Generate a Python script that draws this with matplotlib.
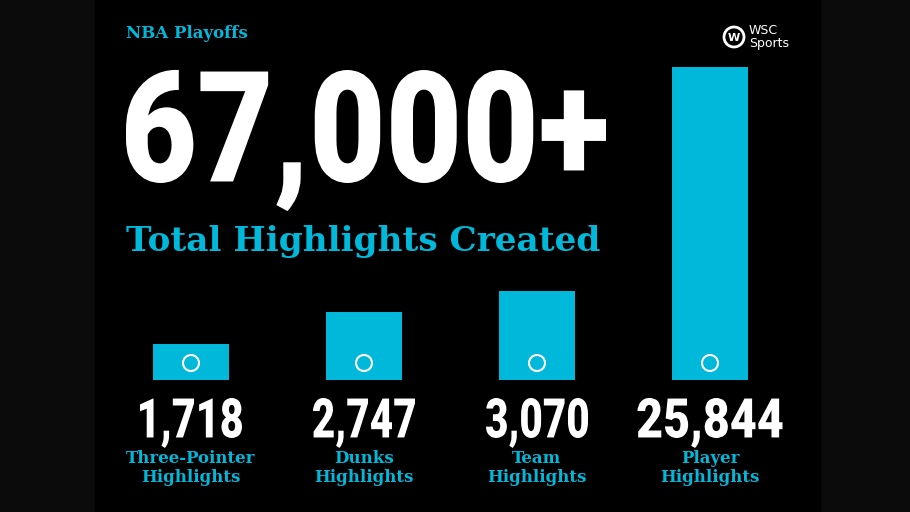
import matplotlib
matplotlib.use("Agg")
import matplotlib.pyplot as plt
from matplotlib.patches import Rectangle, Circle, PathPatch
from matplotlib.textpath import TextPath
from matplotlib.font_manager import FontProperties
from matplotlib.transforms import Affine2D

categories = ["Three-Pointer\nHighlights", "Dunks\nHighlights", "Team\nHighlights", "Player\nHighlights"]
values = [1718, 2747, 3070, 25844]
bar_heights = [36, 68, 89, 313]  # displayed (not to scale) heights in px
title_num = "67,000+"
subtitle = "Total Highlights Created"
kicker = "NBA Playoffs"

CYAN = "#00b8d9"
fig = plt.figure(figsize=(9.1, 5.12), dpi=100, facecolor="#0b0b0b")
ax = fig.add_axes([0, 0, 1, 1])
ax.set_xlim(0, 910); ax.set_ylim(512, 0); ax.axis("off")
ax.add_patch(Rectangle((95, 0), 725, 512, color="black", zorder=0))

prop = FontProperties(family="Roboto", weight="black")

def squeezed(s, x, top, cap_h, width, align="left"):
    tp = TextPath((0, 0), s, size=100, prop=prop)
    cap = TextPath((0, 0), "0", size=100, prop=prop).get_extents()
    ext = tp.get_extents()
    sy = cap_h / cap.height
    sx = width / ext.width
    x0 = x if align == "left" else x - width / 2
    tr = Affine2D().translate(-ext.x0, -cap.y1).scale(sx, -sy).translate(x0, top)
    ax.add_patch(PathPatch(tr.transform_path(tp), color="white", lw=0, zorder=3))

base = 380
xs = [191, 364, 537, 710]
ax.bar(xs, [-h for h in bar_heights], bottom=base, width=76, color=CYAN, zorder=2)
for x, h, v, c in zip(xs, bar_heights, values, categories):
    ax.add_patch(Circle((x, base - 17), 8, fill=False, ec="white", lw=1.5, zorder=3))
    s = f"{v:,}"
    squeezed(s, x, 398, 40, 22 * len(s) + (-8 if len(s) == 5 else 13), align="center")
    ax.text(x, 468, c, color=CYAN, fontsize=12, fontweight="bold", family="DejaVu Serif",
            ha="center", va="center", linespacing=1.2)

ax.text(126, 33, kicker, color=CYAN, fontsize=12, fontweight="bold", family="DejaVu Serif", va="center")
squeezed(title_num, 126, 70, 113, 480)
ax.text(126, 241, subtitle, color=CYAN, fontsize=24.7, fontweight="bold", family="DejaVu Serif", va="center")
ax.add_patch(Circle((734, 37), 10, fill=False, ec="white", lw=2))
ax.text(734, 38, "W", color="white", fontsize=8, fontweight="bold", ha="center", va="center")
ax.text(749, 37, "WSC\nSports", color="white", fontsize=9, va="center", linespacing=0.95)
fig.savefig("out.png", dpi=100, facecolor=fig.get_facecolor())
